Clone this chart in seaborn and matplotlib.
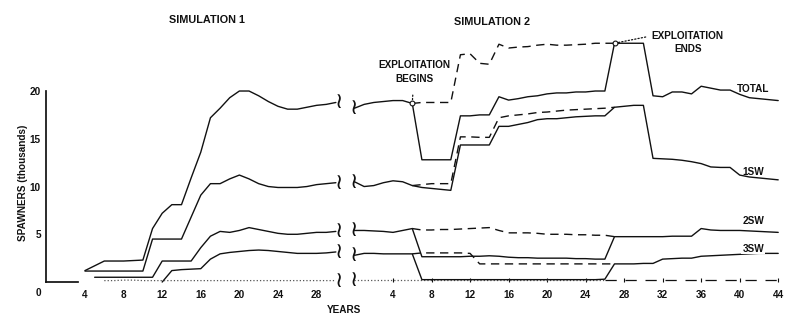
import matplotlib
matplotlib.use("Agg")
import matplotlib.pyplot as plt
import numpy as np
import pandas as pd
import seaborn as sns

# ---------------- data ----------------
# Simulation 1 (years 4..30)
L_YEARS_TOTAL = list(range(4, 31))
L_TOTAL = [1.2, 1.7, 2.2, 2.2, 2.2, 2.25, 2.3, 5.6, 7.2, 8.1, 8.1, 10.9, 13.6, 17.2,
           18.2, 19.3, 20.0, 20.0, 19.5, 18.9, 18.4, 18.1, 18.1, 18.3, 18.5, 18.6, 18.8]
L_YEARS_1SW = list(range(4, 31))
L_1SW = [1.15, 1.15, 1.15, 1.15, 1.15, 1.15, 1.15, 4.5, 4.5, 4.5, 4.5, 6.8, 9.1, 10.3,
         10.3, 10.8, 11.2, 10.8, 10.3, 10.0, 9.9, 9.9, 9.9, 10.0, 10.2, 10.3, 10.4]
L_YEARS_2SW = list(range(5, 31))
L_2SW = [0.5, 0.5, 0.5, 0.5, 0.5, 0.5, 0.5, 2.2, 2.2, 2.2, 2.2, 3.6, 4.8, 5.3, 5.2,
         5.4, 5.7, 5.5, 5.3, 5.1, 5.0, 5.0, 5.1, 5.2, 5.2, 5.3]
L_YEARS_3SW = list(range(12, 31))
L_3SW = [0.0, 1.2, 1.3, 1.35, 1.4, 2.4, 2.95, 3.1, 3.2, 3.3, 3.35, 3.3, 3.2, 3.1,
         3.0, 3.0, 3.0, 3.05, 3.15]
L_YEARS_REP = list(range(6, 31))
L_REP = [0.15, 0.15, 0.2, 0.2, 0.15, 0.15, 0.15, 0.15, 0.15, 0.15, 0.15, 0.15, 0.15,
         0.15, 0.15, 0.15, 0.15, 0.15, 0.15, 0.15, 0.15, 0.15, 0.15, 0.15, 0.15]

# Simulation 2, exploited runs (years 0..44)
R_YEARS = list(range(0, 45))
R_TOTAL = [18.2, 18.6, 18.8, 18.9, 19.0, 19.0, 18.7, 12.8, 12.8, 12.8,
           12.8, 17.4, 17.4, 17.5, 17.5, 19.4, 19.05, 19.2, 19.4, 19.5,
           19.7, 19.8, 19.8, 19.9, 19.9, 20.0, 20.0, 25.0, 25.0, 25.0,
           25.0, 19.5, 19.4, 19.9, 19.9, 19.7, 20.5, 20.3, 20.1, 20.1,
           19.65, 19.3, 19.2, 19.1, 19.0]
R_1SW = [10.5, 10.0, 10.1, 10.4, 10.6, 10.5, 10.1, 9.9, 9.8, 9.7,
         9.6, 14.35, 14.35, 14.35, 14.35, 16.3, 16.3, 16.5, 16.7, 17.0,
         17.1, 17.1, 17.2, 17.3, 17.35, 17.4, 17.4, 18.3, 18.4, 18.5,
         18.5, 12.95, 12.9, 12.85, 12.75, 12.6, 12.4, 12.05, 12.0, 12.0,
         11.2, 11.0, 10.9, 10.8, 10.7]
R_2SW = [5.4, 5.4, 5.35, 5.3, 5.2, 5.4, 5.6, 2.65, 2.65, 2.65,
         2.65, 2.65, 2.7, 2.7, 2.75, 2.7, 2.6, 2.55, 2.55, 2.5,
         2.5, 2.5, 2.5, 2.45, 2.45, 2.4, 2.4, 4.75, 4.75, 4.75,
         4.75, 4.75, 4.75, 4.8, 4.8, 4.8, 5.6, 5.45, 5.4, 5.4,
         5.4, 5.35, 5.3, 5.25, 5.2]
R_3SW = [2.8, 3.0, 3.0, 2.95, 2.95, 2.95, 2.95, 0.25, 0.25, 0.25,
         0.25, 0.25, 0.25, 0.25, 0.25, 0.25, 0.25, 0.25, 0.25, 0.25,
         0.25, 0.25, 0.25, 0.25, 0.25, 0.25, 0.3, 1.9, 1.9, 1.9,
         1.95, 1.95, 2.4, 2.45, 2.5, 2.5, 2.7, 2.75, 2.8, 2.85,
         2.9, 2.95, 3.0, 3.0, 3.0]
R_REP = [0.2, 0.2, 0.2, 0.2, 0.2, 0.2, 0.2, 0.2, 0.2, 0.2,
         0.2, 0.2, 0.2, 0.2, 0.2, 0.2, 0.2, 0.2, 0.2, 0.2,
         0.2, 0.2, 0.2, 0.2, 0.2, 0.2, 0.2, 0.2, 0.2, 0.2,
         0.2, 0.2, 0.2, 0.2, 0.2, 0.2, 0.2, 0.2, 0.2, 0.2,
         0.2, 0.2, 0.2, 0.2, 0.2]

# Simulation 2, unexploited continuation (dashed), years 6..27
D_YEARS = list(range(6, 28))
D_TOTAL = [18.7, 18.8, 18.8, 18.8, 18.8, 23.8, 23.9, 22.9, 22.8, 24.9, 24.5,
           24.6, 24.65, 24.8, 24.9, 24.8, 24.8, 24.85, 24.9, 25.0, 25.0, 25.0]
D_1SW = [10.1, 10.2, 10.3, 10.3, 10.3, 15.2, 15.2, 15.15, 15.15, 17.2, 17.4,
         17.5, 17.6, 17.75, 17.8, 17.9, 18.0, 18.05, 18.1, 18.15, 18.2, 18.3]
D_2SW = [5.6, 5.45, 5.45, 5.5, 5.5, 5.55, 5.6, 5.65, 5.7, 5.4, 5.15,
         5.15, 5.15, 5.1, 5.0, 5.0, 5.0, 4.95, 4.95, 4.9, 4.9, 4.75]
D_3SW = [2.95, 3.05, 3.05, 3.05, 3.05, 3.05, 3.0, 1.9, 1.9, 1.9, 1.9,
         1.9, 1.9, 1.9, 1.9, 1.9, 1.9, 1.9, 1.9, 1.9, 1.9, 1.9]

SERIES_LABELS = ["TOTAL", "1SW", "2SW", "3SW"]
LABEL_VALUES = [20.2, 11.5, 6.35, 3.5]
LABEL_YEAR = 41.4
LEFT_TICKS = [4, 8, 12, 16, 20, 24, 28]
RIGHT_TICKS = [4, 8, 12, 16, 20, 24, 28, 32, 36, 40, 44]
Y_TICKS = [5, 10, 15, 20]
BEGIN_YEAR, END_YEAR = 6, 27

# ---------------- style ----------------
sns.set_theme(style="white")
plt.rcParams["font.family"] = ["Liberation Sans", "DejaVu Sans"]
plt.rcParams["font.weight"] = "bold"
INK = "#111111"
LW = 1.0
DASH = (0, (6, 4))
FS = 7.2

fig = plt.figure(figsize=(8, 3.26), dpi=100)
ax_l = fig.add_axes([0.058, 0.1202, 0.3739, 0.7764])
ax_r = fig.add_axes([0.4371, 0.1202, 0.5477, 0.7764])
for ax in (ax_l, ax_r):
    ax.set_facecolor("none")
    ax.set_ylim(-0.5, 26)
ax_l.set_xlim(0, 31)
ax_r.set_xlim(-0.5, 45)


def line(ax, xs, ys, ls="-", color=INK, lw=LW):
    sns.lineplot(x=xs, y=ys, ax=ax, color=color, linewidth=lw, linestyle=ls,
                 errorbar=None, sort=False)


# left panel
line(ax_l, L_YEARS_TOTAL, L_TOTAL)
line(ax_l, L_YEARS_1SW, L_1SW)
line(ax_l, L_YEARS_2SW, L_2SW)
line(ax_l, L_YEARS_3SW, L_3SW)
line(ax_l, L_YEARS_REP, L_REP, ls=":", color="#555555", lw=0.9)

# right panel
line(ax_r, R_YEARS[:27], R_REP[:27], ls=":", color="#555555", lw=0.9)
line(ax_r, R_YEARS[26:], R_REP[26:], ls=(0, (9, 7)), color=INK, lw=0.9)
line(ax_r, R_YEARS, R_TOTAL)
line(ax_r, R_YEARS, R_1SW)
line(ax_r, R_YEARS, R_2SW)
line(ax_r, R_YEARS, R_3SW)
line(ax_r, D_YEARS, D_TOTAL, ls=DASH)
line(ax_r, D_YEARS, D_1SW, ls=DASH)
line(ax_r, D_YEARS, D_2SW, ls=DASH)
line(ax_r, D_YEARS, D_3SW, ls=DASH)

# break marks
for ys, xs in ((L_TOTAL, L_YEARS_TOTAL), (L_1SW, L_YEARS_1SW), (L_2SW, L_YEARS_2SW),
               (L_3SW, L_YEARS_3SW), (L_REP, L_YEARS_REP)):
    ax_l.text(xs[-1] + 0.35, ys[-1], "\u2240", ha="center", va="center",
              fontsize=16, color=INK, family="DejaVu Sans", fontweight="normal",
              clip_on=False)
for ys in (R_TOTAL, R_1SW, R_2SW, R_3SW, R_REP):
    ax_r.text(R_YEARS[0] - 0.1, ys[0], "\u2240", ha="center", va="center",
              fontsize=16, color=INK, family="DejaVu Sans", fontweight="normal",
              clip_on=False)

# exploitation markers
circ = pd.DataFrame({"year": [BEGIN_YEAR, END_YEAR],
                     "value": [R_TOTAL[BEGIN_YEAR], R_TOTAL[END_YEAR]]})
sns.scatterplot(data=circ, x="year", y="value", ax=ax_r, marker="o", s=12,
                facecolor="white", edgecolor=INK, linewidth=0.8, zorder=5)
ax_r.annotate("EXPLOITATION\nBEGINS", xy=(BEGIN_YEAR, R_TOTAL[BEGIN_YEAR]),
              xytext=(6.2, 22.0), ha="center", va="center", fontsize=FS,
              color=INK, linespacing=1.4, multialignment="center",
              arrowprops=dict(arrowstyle="-", linestyle=":", color=INK, lw=0.9,
                              shrinkA=6, shrinkB=1))
ax_r.annotate("EXPLOITATION\nENDS", xy=(END_YEAR, R_TOTAL[END_YEAR]),
              xytext=(34.6, 25.1), ha="center", va="center", fontsize=FS,
              color=INK, linespacing=1.4, multialignment="center",
              arrowprops=dict(arrowstyle="-", linestyle=":", color=INK, lw=0.9,
                              shrinkA=2, shrinkB=1,
                              relpos=(0.0, 0.78)))

# series labels
for name, val in zip(SERIES_LABELS, LABEL_VALUES):
    ax_r.text(LABEL_YEAR, val, name, ha="center", va="center", fontsize=FS,
              color=INK,
              bbox=dict(facecolor="white", edgecolor="none", pad=0.6) if name == "3SW" else None)

# axes styling
for ax in (ax_l, ax_r):
    for s in ("top", "right"):
        ax.spines[s].set_visible(False)
    ax.spines["bottom"].set_position(("data", 0))
    ax.spines["bottom"].set_color(INK)
    ax.spines["left"].set_color(INK)
    ax.grid(False)
    ax.set_xlabel("")
    ax.set_ylabel("")

ax_l.spines["left"].set_bounds(0, 20)
ax_l.spines["bottom"].set_bounds(0, 3.3)
ax_l.set_yticks(Y_TICKS)
ax_l.set_yticklabels([str(t) for t in Y_TICKS])
ax_l.set_xticks(LEFT_TICKS)
ax_l.set_xticklabels([str(t) for t in LEFT_TICKS])
ax_l.tick_params(axis="both", direction="in", length=3, width=0.8, colors=INK,
                 labelsize=FS, pad=4)
ax_l.tick_params(axis="x", pad=6)
ax_l.annotate("0", xy=(0, 0), xytext=(-8, -11), textcoords="offset pixels",
              ha="center", va="center", fontsize=FS, color=INK)
ax_l.set_ylabel("SPAWNERS (thousands)", fontsize=FS, color=INK, fontweight="bold")
ax_l.yaxis.set_label_coords(-0.062, 0.41)

ax_r.spines["left"].set_visible(False)
ax_r.spines["bottom"].set_visible(False)
ax_r.set_yticks([])
ax_r.set_xticks(RIGHT_TICKS)
ax_r.set_xticklabels([str(t) for t in RIGHT_TICKS])
ax_r.tick_params(axis="x", direction="in", length=3, width=0.8, colors=INK,
                 labelsize=FS, pad=6, bottom=True)

fig.text(0.259, 0.939, "SIMULATION 1", ha="center", va="center", fontsize=7.8,
         color=INK)
fig.text(0.615, 0.933, "SIMULATION 2", ha="center", va="center", fontsize=7.8,
         color=INK)
fig.text(0.43, 0.049, "YEARS", ha="center", va="center", fontsize=FS, color=INK)

fig.savefig("out.png", dpi=100, facecolor="white")
